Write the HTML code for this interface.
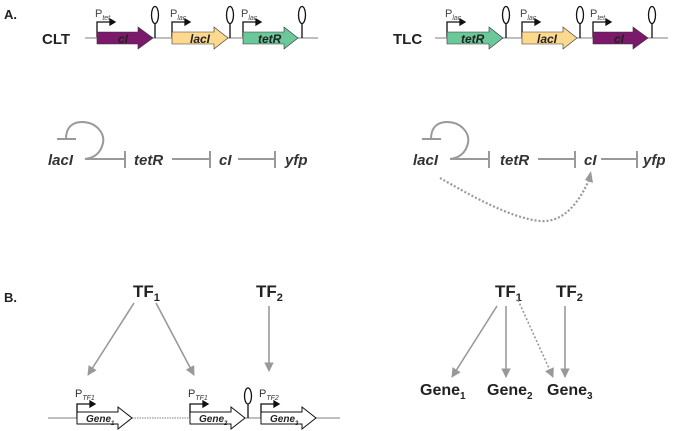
<!DOCTYPE html>
<html><head><meta charset="utf-8"><style>
html,body{margin:0;padding:0;background:#fff;}
svg{display:block;font-family:"Liberation Sans",Arial,sans-serif;}
</style></head><body>
<svg width="681" height="431" viewBox="0 0 681 431" xmlns="http://www.w3.org/2000/svg">
<defs>
<marker id="ah" viewBox="0 0 10 10" refX="9" refY="5" markerWidth="6" markerHeight="6" orient="auto"><path d="M0,0 L10,5 L0,10 z" fill="#999"/></marker>
</defs>
<text x="4" y="19" font-size="13" font-weight="bold" fill="#222">A.</text>
<!-- CLT -->
<text x="42" y="44" font-size="15" font-weight="bold" fill="#222">CLT</text>
<line x1="85" y1="38" x2="318" y2="38" stroke="#999" stroke-width="1.2"/>
<g font-size="11" fill="#444">
<text x="95" y="17">P<tspan font-size="7" font-style="italic" dy="3">tet</tspan></text>
<text x="170" y="17">P<tspan font-size="7" font-style="italic" dy="3">lac</tspan></text>
<text x="241" y="17">P<tspan font-size="7" font-style="italic" dy="3">lac</tspan></text>
</g>
<g stroke="#111" stroke-width="1.3" fill="#111">
<path d="M97,37 V22 H110" fill="none"/><path d="M110,19 L115,22 L110,25z"/>
<path d="M172,37 V22 H185" fill="none"/><path d="M185,19 L190,22 L185,25z"/>
<path d="M243,37 V22 H256" fill="none"/><path d="M256,19 L261,22 L256,25z"/>
</g>
<path d="M97,32 H138 V27 L153,38 L138,49 V44 H97z" fill="#7b1a6b" stroke="#333" stroke-width="0.6"/>
<path d="M172,32 H214 V27 L228,38 L214,49 V44 H172z" fill="#fcd98e" stroke="#333" stroke-width="0.6"/>
<path d="M243,32 H284 V27 L298,38 L284,49 V44 H243z" fill="#6cc79a" stroke="#333" stroke-width="0.6"/>
<g font-size="12" font-style="italic" font-weight="bold" fill="#222">
<text x="118" y="43">cI</text><text x="190" y="43">lacI</text><text x="258" y="43">tetR</text>
</g>
<g stroke="#111" stroke-width="1.3" fill="none">
<line x1="155" y1="38" x2="155" y2="24"/><ellipse cx="155" cy="15" rx="3.5" ry="8.5"/>
<line x1="230" y1="38" x2="230" y2="24"/><ellipse cx="230" cy="15" rx="3.5" ry="8.5"/>
<line x1="302" y1="38" x2="302" y2="24"/><ellipse cx="302" cy="15" rx="3.5" ry="8.5"/>
</g>
<!-- TLC -->
<text x="393" y="44" font-size="15" font-weight="bold" fill="#222">TLC</text>
<line x1="435" y1="38" x2="668" y2="38" stroke="#999" stroke-width="1.2"/>
<g font-size="11" fill="#444">
<text x="445" y="17">P<tspan font-size="7" font-style="italic" dy="3">lac</tspan></text>
<text x="520" y="17">P<tspan font-size="7" font-style="italic" dy="3">lac</tspan></text>
<text x="590" y="17">P<tspan font-size="7" font-style="italic" dy="3">tet</tspan></text>
</g>
<g stroke="#111" stroke-width="1.3" fill="#111">
<path d="M447,37 V22 H460" fill="none"/><path d="M460,19 L465,22 L460,25z"/>
<path d="M522,37 V22 H535" fill="none"/><path d="M535,19 L540,22 L535,25z"/>
<path d="M593,37 V22 H606" fill="none"/><path d="M606,19 L611,22 L606,25z"/>
</g>
<path d="M447,32 H489 V27 L503,38 L489,49 V44 H447z" fill="#6cc79a" stroke="#333" stroke-width="0.6"/>
<path d="M522,32 H563 V27 L577,38 L563,49 V44 H522z" fill="#fcd98e" stroke="#333" stroke-width="0.6"/>
<path d="M593,32 H633 V27 L648,38 L633,49 V44 H593z" fill="#7b1a6b" stroke="#333" stroke-width="0.6"/>
<g font-size="12" font-style="italic" font-weight="bold" fill="#222">
<text x="461" y="43">tetR</text><text x="537" y="43">lacI</text><text x="614" y="43">cI</text>
</g>
<g stroke="#111" stroke-width="1.3" fill="none">
<line x1="506" y1="38" x2="506" y2="24"/><ellipse cx="506" cy="15" rx="3.5" ry="8.5"/>
<line x1="580" y1="38" x2="580" y2="24"/><ellipse cx="580" cy="15" rx="3.5" ry="8.5"/>
<line x1="652" y1="38" x2="652" y2="24"/><ellipse cx="652" cy="15" rx="3.5" ry="8.5"/>
</g>
<!-- networks -->
<g font-size="15" font-style="italic" font-weight="bold" fill="#333">
<text x="48" y="165">lacI</text><text x="134" y="165">tetR</text><text x="219" y="165">cI</text><text x="285" y="165">yfp</text>
<text x="413" y="165">lacI</text><text x="500" y="165">tetR</text><text x="584" y="165">cI</text><text x="643" y="165">yfp</text>
</g>
<g stroke="#999" stroke-width="2" fill="none">
<path d="M57,139 H76 M66,139 C66,125 75,122 82,122 C96,122 105,133 103,143 C101,152 95,158 85,159 H125 M125,151 V168"/>
<path d="M172,159 H210 M210,151 V168 M238,159 H275 M275,151 V168"/>
<path d="M422,139 H441 M431,139 C431,125 440,122 447,122 C461,122 470,133 468,143 C466,152 460,158 450,159 H489 M489,151 V168"/>
<path d="M538,159 H575 M575,151 V168 M601,159 H637 M637,151 V168"/>
<path d="M440,178 C470,195 510,218 540,221 C565,223 580,200 589,180" stroke-dasharray="2,2" stroke-width="2.2"/>
</g>
<path d="M591,171 L593,183 L585,180z" fill="#999"/>
<!-- B -->
<text x="4" y="302" font-size="13" font-weight="bold" fill="#222">B.</text>
<g font-size="17" font-weight="bold" fill="#222">
<text x="133" y="297">TF<tspan font-size="11" dy="4">1</tspan></text>
<text x="256" y="297">TF<tspan font-size="11" dy="4">2</tspan></text>
<text x="495" y="297">TF<tspan font-size="11" dy="4">1</tspan></text>
<text x="556" y="297">TF<tspan font-size="11" dy="4">2</tspan></text>
</g>
<g stroke="#999" stroke-width="1.6" fill="none" marker-end="url(#ah)">
<line x1="134" y1="303" x2="88" y2="375"/>
<line x1="156" y1="303" x2="194" y2="375"/>
<line x1="269" y1="306" x2="269" y2="371"/>
<line x1="497" y1="306" x2="452" y2="377"/>
<line x1="506" y1="306" x2="506" y2="377"/>
<line x1="518" y1="300" x2="553" y2="377" stroke-dasharray="2,2"/>
<line x1="565" y1="306" x2="565" y2="377"/>
</g>
<g font-size="16" font-weight="bold" fill="#222">
<text x="420" y="395">Gene<tspan font-size="10" dy="4">1</tspan></text>
<text x="487" y="395">Gene<tspan font-size="10" dy="4">2</tspan></text>
<text x="547" y="395">Gene<tspan font-size="10" dy="4">3</tspan></text>
</g>
<!-- gene line -->
<line x1="48" y1="418" x2="77" y2="418" stroke="#999" stroke-width="1.2"/>
<line x1="132" y1="418" x2="190" y2="418" stroke="#999" stroke-width="1.2" stroke-dasharray="1.5,1"/>
<line x1="245" y1="418" x2="340" y2="418" stroke="#999" stroke-width="1.2"/>
<g font-size="11" fill="#333">
<text x="75" y="397">P<tspan font-size="7" font-style="italic" dy="3">TF1</tspan></text>
<text x="188" y="397">P<tspan font-size="7" font-style="italic" dy="3">TF1</tspan></text>
<text x="259" y="397">P<tspan font-size="7" font-style="italic" dy="3">TF2</tspan></text>
</g>
<g stroke="#111" stroke-width="1.3" fill="#111">
<path d="M77,418 V404 H90" fill="none"/><path d="M90,401 L95,404 L90,407z"/>
<path d="M190,418 V404 H203" fill="none"/><path d="M203,401 L208,404 L203,407z"/>
<path d="M261,418 V404 H274" fill="none"/><path d="M274,401 L279,404 L274,407z"/>
</g>
<g fill="#fff" stroke="#111" stroke-width="1">
<path d="M77,412 H118 V407 L132,418 L118,429 V424 H77z"/>
<path d="M190,412 H231 V407 L245,418 L231,429 V424 H190z"/>
<path d="M261,412 H302 V407 L316,418 L302,429 V424 H261z"/>
</g>
<g font-size="10" font-style="italic" font-weight="bold" fill="#222">
<text x="86" y="422">Gene<tspan font-size="6" dy="3">1</tspan></text>
<text x="199" y="422">Gene<tspan font-size="6" dy="3">2</tspan></text>
<text x="270" y="422">Gene<tspan font-size="6" dy="3">3</tspan></text>
</g>
<g stroke="#111" stroke-width="1.3" fill="none">
<line x1="248" y1="418" x2="248" y2="404"/><ellipse cx="248" cy="396" rx="3.5" ry="8"/>
</g>
</svg>
</body></html>
